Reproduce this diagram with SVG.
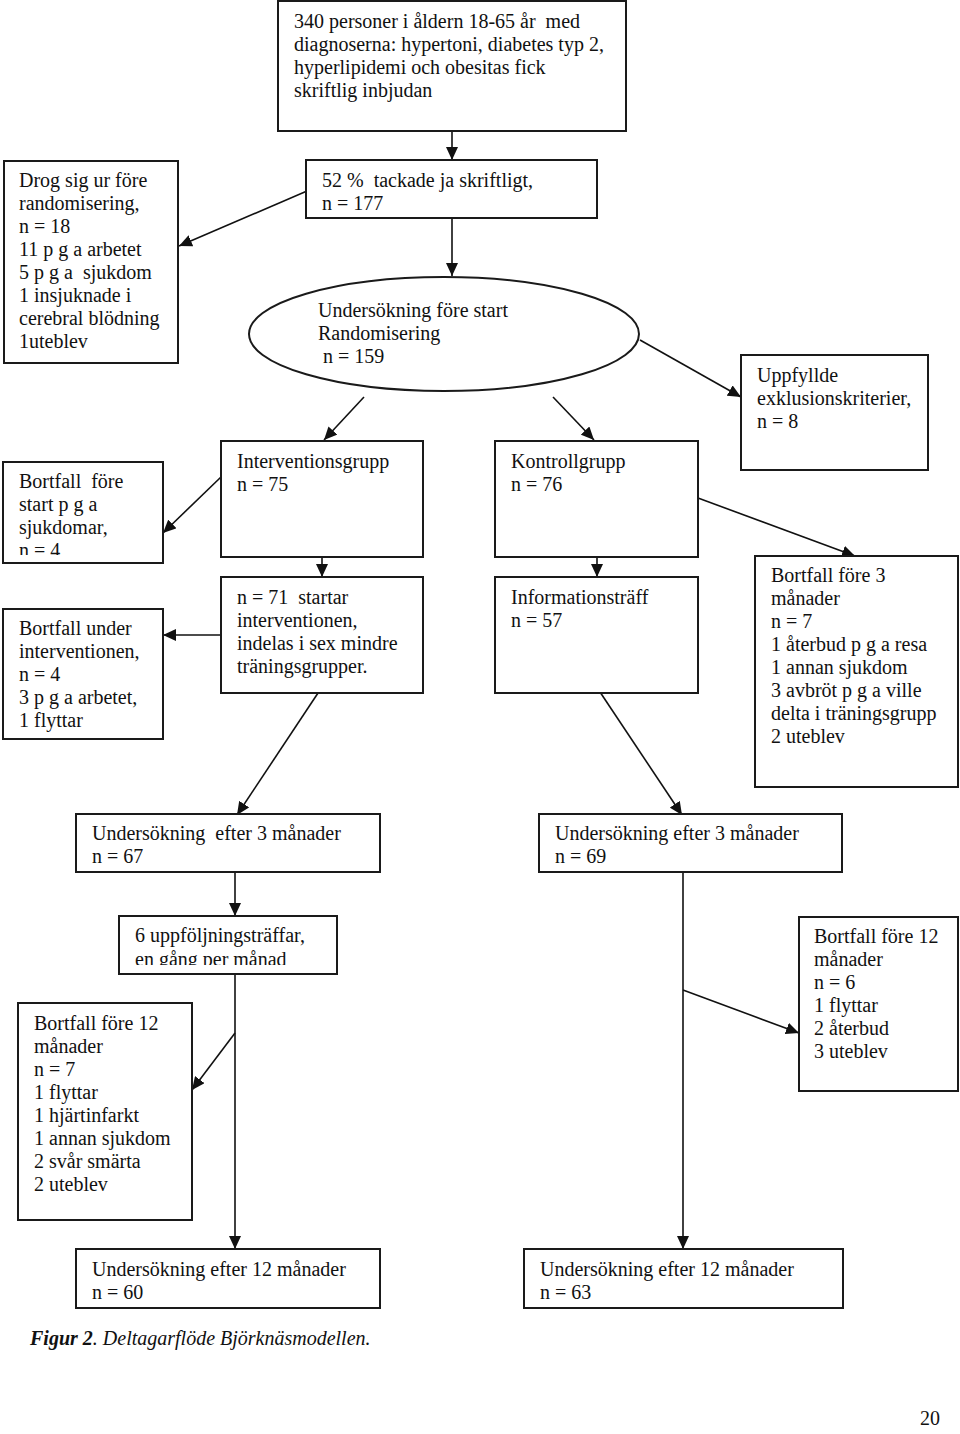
<svg xmlns="http://www.w3.org/2000/svg" width="960" height="1434" viewBox="0 0 960 1434">
<style>
.box{fill:#fff;stroke:#1a1a1a;stroke-width:2}
.t{font-family:"Liberation Serif","Times New Roman",serif;font-size:20px;fill:#111;white-space:pre}
.c line{stroke:#111;stroke-width:1.6;fill:none}
</style>
<defs>
<marker id="ah" markerUnits="userSpaceOnUse" markerWidth="14" markerHeight="12" refX="13" refY="6" orient="auto">
<path d="M0,0 L13,6 L0,12 z" fill="#111"/>
</marker>
<clipPath id="clipA"><rect x="0" y="455" width="170" height="100"/></clipPath>
<clipPath id="clipB"><rect x="115" y="910" width="230" height="55"/></clipPath>
</defs>
<rect width="960" height="1434" fill="#fff"/>

<g class="c">
<line x1="452" y1="131" x2="452" y2="160" marker-end="url(#ah)"/>
<line x1="307" y1="191" x2="179" y2="246" marker-end="url(#ah)"/>
<line x1="452" y1="218" x2="452" y2="276" marker-end="url(#ah)"/>
<line x1="364" y1="397" x2="324" y2="440" marker-end="url(#ah)"/>
<line x1="553" y1="397" x2="594" y2="440" marker-end="url(#ah)"/>
<line x1="640" y1="340" x2="741" y2="397" marker-end="url(#ah)"/>
<line x1="221" y1="477" x2="163" y2="533" marker-end="url(#ah)"/>
<line x1="322" y1="533" x2="322" y2="577" marker-end="url(#ah)"/>
<line x1="221" y1="635" x2="163" y2="635" marker-end="url(#ah)"/>
<line x1="322" y1="687" x2="237" y2="815" marker-end="url(#ah)"/>
<line x1="597" y1="533" x2="597" y2="577" marker-end="url(#ah)"/>
<line x1="698" y1="498" x2="855" y2="556" marker-end="url(#ah)"/>
<line x1="596" y1="686" x2="682" y2="815" marker-end="url(#ah)"/>
<line x1="235" y1="872" x2="235" y2="916" marker-end="url(#ah)"/>
<line x1="235" y1="974" x2="235" y2="1249" marker-end="url(#ah)"/>
<line x1="235" y1="1033" x2="192" y2="1090" marker-end="url(#ah)"/>
<line x1="683" y1="872" x2="683" y2="1249" marker-end="url(#ah)"/>
<line x1="683" y1="990" x2="799" y2="1033" marker-end="url(#ah)"/>
</g>

<g id="n-start">
<rect class="box" x="278" y="1" width="348" height="130"/>
<text class="t" x="294" y="28">340 personer i åldern 18-65 år  med</text>
<text class="t" x="294" y="51">diagnoserna: hypertoni, diabetes typ 2,</text>
<text class="t" x="294" y="74">hyperlipidemi och obesitas fick</text>
<text class="t" x="294" y="97">skriftlig inbjudan</text>
</g>

<g id="n-tackade">
<rect class="box" x="306" y="160" width="291" height="58"/>
<text class="t" x="322" y="187">52 %  tackade ja skriftligt,</text>
<text class="t" x="322" y="210">n = 177</text>
</g>

<g id="n-drog">
<rect class="box" x="4" y="161" width="174" height="202"/>
<text class="t" x="19" y="187">Drog sig ur före</text>
<text class="t" x="19" y="210">randomisering,</text>
<text class="t" x="19" y="233">n = 18</text>
<text class="t" x="19" y="256">11 p g a arbetet</text>
<text class="t" x="19" y="279">5 p g a  sjukdom</text>
<text class="t" x="19" y="302">1 insjuknade i</text>
<text class="t" x="19" y="325">cerebral blödning</text>
<text class="t" x="19" y="348">1uteblev</text>
</g>

<g id="n-rand">
<ellipse class="box" cx="444" cy="334" rx="195" ry="57"/>
<text class="t" x="318" y="317">Undersökning före start</text>
<text class="t" x="318" y="340">Randomisering</text>
<text class="t" x="318" y="363"> n = 159</text>
</g>

<g id="n-uppfyllde">
<rect class="box" x="741" y="355" width="187" height="115"/>
<text class="t" x="757" y="382">Uppfyllde</text>
<text class="t" x="757" y="405">exklusionskriterier,</text>
<text class="t" x="757" y="428">n = 8</text>
</g>

<g id="n-bortfall-start">
<rect class="box" x="3" y="462" width="160" height="101"/>
<g clip-path="url(#clipA)">
<text class="t" x="19" y="488">Bortfall  före</text>
<text class="t" x="19" y="511">start p g a</text>
<text class="t" x="19" y="534">sjukdomar,</text>
<text class="t" x="19" y="557">n = 4</text>
</g>
</g>

<g id="n-interv">
<rect class="box" x="221" y="441" width="202" height="116"/>
<text class="t" x="237" y="468">Interventionsgrupp</text>
<text class="t" x="237" y="491">n = 75</text>
</g>

<g id="n-kontroll">
<rect class="box" x="495" y="441" width="203" height="116"/>
<text class="t" x="511" y="468">Kontrollgrupp</text>
<text class="t" x="511" y="491">n = 76</text>
</g>

<g id="n-startar">
<rect class="box" x="221" y="577" width="202" height="116"/>
<text class="t" x="237" y="604">n = 71  startar</text>
<text class="t" x="237" y="627">interventionen,</text>
<text class="t" x="237" y="650">indelas i sex mindre</text>
<text class="t" x="237" y="673">träningsgrupper.</text>
</g>

<g id="n-info">
<rect class="box" x="495" y="577" width="203" height="116"/>
<text class="t" x="511" y="604">Informationsträff</text>
<text class="t" x="511" y="627">n = 57</text>
</g>

<g id="n-bortfall-under">
<rect class="box" x="3" y="609" width="160" height="130"/>
<text class="t" x="19" y="635">Bortfall under</text>
<text class="t" x="19" y="658">interventionen,</text>
<text class="t" x="19" y="681">n = 4</text>
<text class="t" x="19" y="704">3 p g a arbetet,</text>
<text class="t" x="19" y="727">1 flyttar</text>
</g>

<g id="n-bortfall-3">
<rect class="box" x="755" y="556" width="203" height="231"/>
<text class="t" x="771" y="582">Bortfall före 3</text>
<text class="t" x="771" y="605">månader</text>
<text class="t" x="771" y="628">n = 7</text>
<text class="t" x="771" y="651">1 återbud p g a resa</text>
<text class="t" x="771" y="674">1 annan sjukdom</text>
<text class="t" x="771" y="697">3 avbröt p g a ville</text>
<text class="t" x="771" y="720">delta i träningsgrupp</text>
<text class="t" x="771" y="743">2 uteblev</text>
</g>

<g id="n-us3-i">
<rect class="box" x="76" y="814" width="304" height="58"/>
<text class="t" x="92" y="840">Undersökning  efter 3 månader</text>
<text class="t" x="92" y="863">n = 67</text>
</g>

<g id="n-us3-k">
<rect class="box" x="539" y="814" width="303" height="58"/>
<text class="t" x="555" y="840">Undersökning efter 3 månader</text>
<text class="t" x="555" y="863">n = 69</text>
</g>

<g id="n-uppfolj">
<rect class="box" x="119" y="916" width="218" height="58"/>
<g clip-path="url(#clipB)">
<text class="t" x="135" y="942">6 uppföljningsträffar,</text>
<text class="t" x="135" y="966">en gång per månad</text>
</g>
</g>

<g id="n-bortfall-12-i">
<rect class="box" x="18" y="1003" width="174" height="217"/>
<text class="t" x="34" y="1030">Bortfall före 12</text>
<text class="t" x="34" y="1053">månader</text>
<text class="t" x="34" y="1076">n = 7</text>
<text class="t" x="34" y="1099">1 flyttar</text>
<text class="t" x="34" y="1122">1 hjärtinfarkt</text>
<text class="t" x="34" y="1145">1 annan sjukdom</text>
<text class="t" x="34" y="1168">2 svår smärta</text>
<text class="t" x="34" y="1191">2 uteblev</text>
</g>

<g id="n-bortfall-12-k">
<rect class="box" x="799" y="917" width="159" height="174"/>
<text class="t" x="814" y="943">Bortfall före 12</text>
<text class="t" x="814" y="966">månader</text>
<text class="t" x="814" y="989">n = 6</text>
<text class="t" x="814" y="1012">1 flyttar</text>
<text class="t" x="814" y="1035">2 återbud</text>
<text class="t" x="814" y="1058">3 uteblev</text>
</g>

<g id="n-us12-i">
<rect class="box" x="76" y="1249" width="304" height="59"/>
<text class="t" x="92" y="1276">Undersökning efter 12 månader</text>
<text class="t" x="92" y="1299">n = 60</text>
</g>

<g id="n-us12-k">
<rect class="box" x="524" y="1249" width="319" height="59"/>
<text class="t" x="540" y="1276">Undersökning efter 12 månader</text>
<text class="t" x="540" y="1299">n = 63</text>
</g>

<text class="t" x="30" y="1345" font-style="italic"><tspan font-weight="bold">Figur 2</tspan>. Deltagarflöde Björknäsmodellen.</text>
<text class="t" x="940" y="1425" text-anchor="end">20</text>
</svg>
